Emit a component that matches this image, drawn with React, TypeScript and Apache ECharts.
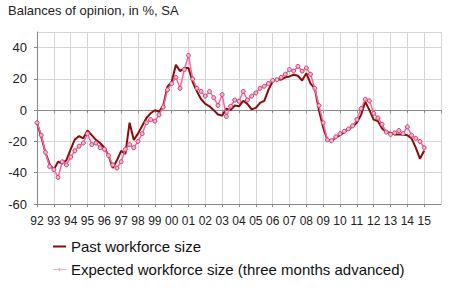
import React, { useEffect, useRef } from "react";
import * as echarts from "echarts";

// Quarterly readings, starting Q1 1992
const startYear = 1992;
const stepYears = 0.25;

const pastWorkforce = [
  -8, -17, -27, -34.7,
  -38, -33, -34, -32,
  -25, -18.7, -16.6, -18,
  -13, -16, -19, -21,
  -24, -29, -37, -32,
  -26, -28, -8, -19,
  -15, -10, -5, -2,
  0, -1, 3, 15,
  18, 29, 25, 27,
  27, 18, 12, 7,
  4, 2.5, 0, -2.8,
  -3.5, 1, 0, 3,
  2.5, 6, 4, 0.5,
  1.5, 4.7, 6, 13,
  18.5, 20, 19.5, 21,
  21.6, 22.7, 22, 19,
  23.7, 17, 14, 0,
  -11, -19, -19.5, -17.6,
  -16, -14, -12, -10.5,
  -8, -3, 5.5, 0,
  -6, -7, -11.7, -14,
  -14.5, -15.5, -15.5, -15.5,
  -16, -18, -24, -31,
  -26,
];

const expectedWorkforce = [
  -8, -16, -27, -36,
  -38, -43, -33, -35,
  -30, -26, -23, -21,
  -15, -22, -21, -24,
  -25, -29, -35, -37,
  -33, -25, -22, -24,
  -20, -15, -8, -6,
  -7, -3, 2, 13,
  17, 21, 14, 26,
  35, 20, 14, 12,
  9, 12, 8, 3,
  10, -4, 2.5, 6.5,
  5.7, 12, 6.5, 9,
  11, 14, 15.3, 17,
  19, 19.5, 21, 23,
  26, 25, 28, 25,
  27, 23, 14, 3,
  -8, -19, -19.5, -17,
  -15, -13.5, -12, -10,
  -6, 1, 7, 6,
  -2, -5, -9, -14,
  -15.5, -14.5, -13, -15,
  -10.6, -16, -18, -20,
  -24,
];

const seriesNames = [
  "Past workforce size",
  "Expected workforce size (three months advanced)",
];
const titleText = "Balances of opinion, in %, SA";

const xMin = 1992;
const xMax = 2016;
const yMin = -60;
const yMax = 50;
const yInterval = 20;

const PAST_COLOR = "#8b0a0a";
const EXP_LINE = "#ff64a2";
const EXP_FILL = "#f7b3cd";
const EXP_BORDER = "#bf4270";

const toPairs = (vals: number[]) =>
  vals.map((v, i) => [startYear + i * stepYears, v]);

const FONT = "'Liberation Sans', Arial, sans-serif";

export default function App() {
  const ref = useRef<HTMLDivElement>(null);

  useEffect(() => {
    if (!ref.current) return;
    const chart = echarts.init(ref.current, undefined, { renderer: "svg" });
    chart.setOption({
      animation: false,
      backgroundColor: "#ffffff",
      textStyle: { fontFamily: FONT },
      title: {
        text: titleText,
        left: 8,
        top: 4,
        padding: 0,
        textStyle: {
          fontFamily: FONT,
          fontSize: 13,
          fontWeight: "normal",
          color: "#222",
        },
      },
      legend: {
        orient: "vertical",
        left: 53,
        top: 239,
        itemWidth: 13,
        itemHeight: 14,
        itemGap: 8,
        padding: 0,
        textStyle: { fontFamily: FONT, fontSize: 15, color: "#111" },
        data: [
          {
            name: seriesNames[0],
            icon: "path://M0,0H26V4H0Z",
            itemStyle: { color: PAST_COLOR, borderWidth: 0 },
          },
          {
            name: seriesNames[1],
            icon: "path://M0,3.4H26V4.6H0Z M13,1.6A2.4,2.4 0 1 0 13.001,1.6Z",
            itemStyle: { color: "#e8659a", borderWidth: 0 },
          },
        ],
      },
      grid: { left: 37, right: 9, top: 32, bottom: 87 },
      xAxis: [
        {
          type: "value",
          min: xMin,
          max: xMax,
          interval: 1,
          position: "bottom",
          axisLine: { onZero: false, lineStyle: { color: "#888", width: 1 } },
          axisTick: { show: true, length: 3, lineStyle: { color: "#888" } },
          axisLabel: {
            fontFamily: FONT,
            fontSize: 12,
            color: "#222",
            margin: 11,
            showMaxLabel: false,
            formatter: (v: number) => String(v % 100).padStart(2, "0"),
          },
          splitLine: { show: true, lineStyle: { color: "#d6d6d6", width: 1 } },
        },
        {
          type: "value",
          min: xMin,
          max: xMax,
          interval: 1,
          position: "bottom",
          axisLine: { onZero: true, lineStyle: { color: "#8a8a8a", width: 1 } },
          axisTick: { show: true, length: 3, lineStyle: { color: "#8a8a8a" } },
          axisLabel: { show: false },
          splitLine: { show: false },
        },
      ],
      yAxis: {
        type: "value",
        min: yMin,
        max: yMax,
        interval: yInterval,
        axisLine: { show: true, lineStyle: { color: "#888", width: 1 } },
        axisTick: { show: true, length: 3, lineStyle: { color: "#888" } },
        axisLabel: {
          fontFamily: FONT,
          fontSize: 13,
          color: "#222",
          margin: 10,
          showMaxLabel: false,
        },
        splitLine: { show: true, lineStyle: { color: "#d6d6d6", width: 1 } },
      },
      series: [
        {
          name: seriesNames[0],
          type: "line",
          xAxisIndex: 0,
          data: toPairs(pastWorkforce),
          symbol: "none",
          lineStyle: { color: PAST_COLOR, width: 2 },
          itemStyle: { color: PAST_COLOR },
          z: 3,
        },
        {
          name: seriesNames[1],
          type: "line",
          xAxisIndex: 0,
          data: toPairs(expectedWorkforce),
          symbol: "circle",
          symbolSize: 4,
          showSymbol: true,
          lineStyle: { color: EXP_LINE, width: 1.5 },
          itemStyle: {
            color: EXP_FILL,
            borderColor: EXP_BORDER,
            borderWidth: 1,
          },
          z: 4,
        },
      ],
    });
    return () => chart.dispose();
  }, []);

  return (
    <div
      ref={ref}
      style={{ position: "fixed", left: 0, top: 0, width: 450, height: 291 }}
    />
  );
}
